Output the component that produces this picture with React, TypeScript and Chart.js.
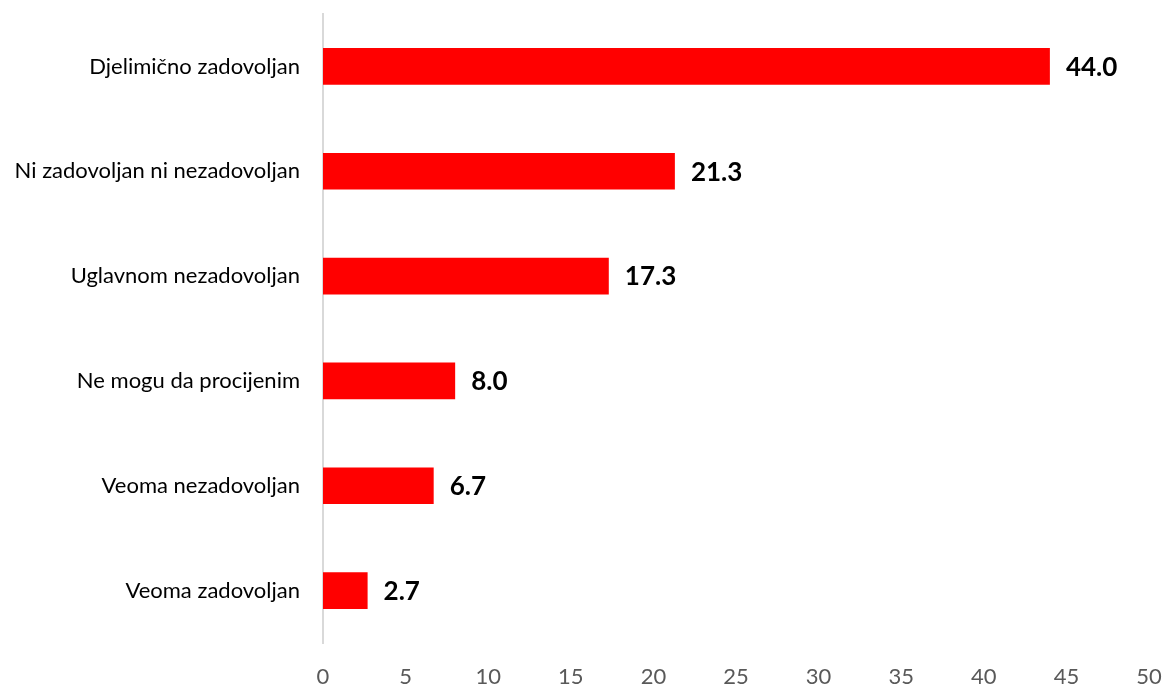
import React, { useEffect, useRef } from "react";
import { Chart, registerables } from "chart.js";

Chart.register(...registerables);

const categories = [
  "Djelimično zadovoljan",
  "Ni zadovoljan ni nezadovoljan",
  "Uglavnom nezadovoljan",
  "Ne mogu da procijenim",
  "Veoma nezadovoljan",
  "Veoma zadovoljan",
];
const values = [44.0, 21.3, 17.3, 8.0, 6.7, 2.7];
const xTicks = [0, 5, 10, 15, 20, 25, 30, 35, 40, 45, 50];

const FONT = "Lato, 'Noto Sans', sans-serif";

const valueLabels = {
  id: "valueLabels",
  afterDatasetsDraw(chart: any) {
    const ctx = chart.ctx;
    const meta = chart.getDatasetMeta(0);
    ctx.save();
    ctx.font = `bold 26px ${FONT}`;
    ctx.fillStyle = "#000000";
    ctx.textAlign = "left";
    ctx.textBaseline = "middle";
    meta.data.forEach((bar: any, i: number) => {
      const v = chart.data.datasets[0].data[i] as number;
      ctx.fillText(v.toFixed(1), bar.x + 16, bar.y + 1);
    });
    ctx.restore();
  },
};

const zeroPad = (scale: any) => {
  scale.paddingTop = 0;
  scale.paddingBottom = 0;
  scale.paddingLeft = 0;
  scale.paddingRight = 0;
};

export default function App() {
  const ref = useRef<HTMLCanvasElement>(null);
  useEffect(() => {
    document.body.style.margin = "0";
    const chart = new Chart(ref.current!, {
      type: "bar",
      data: {
        labels: categories,
        datasets: [
          {
            data: values,
            backgroundColor: "#ff0000",
            borderWidth: 0,
            barPercentage: 0.35,
            categoryPercentage: 1,
          },
        ],
      },
      options: {
        indexAxis: "y",
        animation: false,
        responsive: false,
        maintainAspectRatio: false,
        layout: { padding: { top: 14, right: 15, bottom: 0, left: 0 } },
        plugins: { legend: { display: false }, tooltip: { enabled: false } },
        scales: {
          x: {
            min: 0,
            max: 50,
            afterBuildTicks: (scale: any) => {
              scale.ticks = xTicks.map((v) => ({ value: v }));
            },
            afterFit: (scale: any) => {
              scale.height = 41;
              zeroPad(scale);
            },
            grid: { display: false, drawTicks: false },
            border: { display: false },
            ticks: {
              padding: 21,
              color: "#595959",
              font: { family: FONT, size: 22 },
              maxRotation: 0,
            },
          },
          y: {
            afterFit: (scale: any) => {
              scale.width = 323;
              zeroPad(scale);
            },
            grid: { display: false, drawTicks: false },
            border: { display: true, color: "#d9d9d9", width: 2 },
            ticks: {
              padding: 23,
              color: "#000000",
              font: { family: FONT, size: 22 },
            },
          },
        },
      },
      plugins: [valueLabels],
    });
    return () => chart.destroy();
  }, []);
  return (
    <div style={{ width: 1164, height: 684, background: "#fff" }}>
      <canvas ref={ref} width={1164} height={684} />
    </div>
  );
}
